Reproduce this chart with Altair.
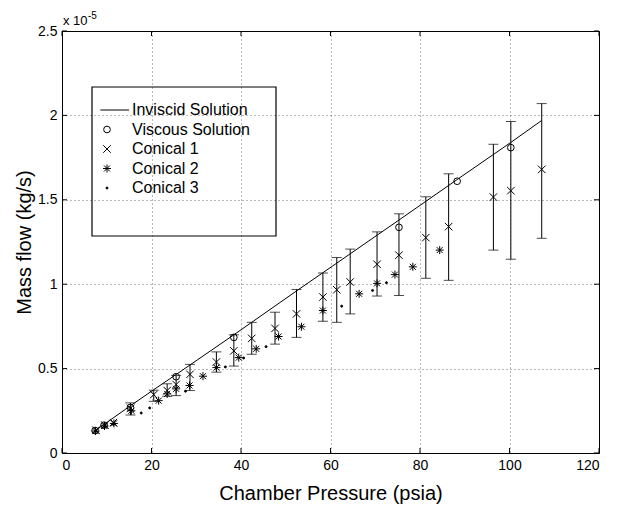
import altair as alt
import pandas as pd

FONT = "Liberation Sans"
W, H = 537, 422

series_names = ["Inviscid Solution", "Viscous Solution", "Conical 1", "Conical 2", "Conical 3"]

inviscid_x = [7.3, 15.3, 20.5, 25.5, 38.4, 52.4, 64.4, 75.3, 88.3, 100.3, 107.2]
inviscid_y = [0.13, 0.28, 0.375, 0.465, 0.70, 0.96, 1.18, 1.38, 1.62, 1.84, 1.97]

viscous_x = [7.4, 9.4, 15.3, 25.5, 38.4, 75.3, 88.3, 100.3]
viscous_y = [0.133, 0.165, 0.27, 0.452, 0.685, 1.337, 1.61, 1.809]

con1_x = [7.6, 9.6, 11.5, 15.3, 20.5, 23.5, 25.5, 28.6, 34.5, 38.4, 42.4, 47.6,
          52.4, 58.3, 61.4, 64.4, 70.4, 75.3, 81.3, 86.4, 96.4, 100.3, 107.2]
con1_y = [0.135, 0.165, 0.18, 0.265, 0.346, 0.37, 0.406, 0.466, 0.539, 0.605, 0.679, 0.738,
          0.824, 0.924, 0.967, 1.013, 1.118, 1.172, 1.276, 1.341, 1.516, 1.554, 1.68]

err_x = [15.3, 20.5, 23.5, 25.5, 28.6, 34.5, 38.4, 42.4, 47.6, 52.4, 58.3, 61.4,
         64.4, 70.4, 75.3, 81.3, 86.4, 96.4, 100.3, 107.2]
err_lo = [0.225, 0.306, 0.336, 0.34, 0.37, 0.479, 0.515, 0.585, 0.645, 0.685, 0.78, 0.774,
          0.824, 0.93, 0.933, 1.035, 1.023, 1.202, 1.148, 1.272]
err_hi = [0.297, 0.372, 0.41, 0.46, 0.525, 0.599, 0.70, 0.774, 0.834, 0.969, 1.066, 1.158,
          1.208, 1.31, 1.417, 1.518, 1.654, 1.829, 1.964, 2.07]

con2_x = [7.5, 9.5, 11.6, 15.5, 21.6, 23.5, 25.5, 28.5, 31.5, 34.5, 39.5, 43.4, 48.4,
          53.5, 58.3, 66.4, 70.4, 74.4, 78.4, 84.4]
con2_y = [0.13, 0.16, 0.175, 0.25, 0.31, 0.35, 0.38, 0.40, 0.455, 0.506, 0.565, 0.617, 0.69,
          0.748, 0.844, 0.943, 1.005, 1.057, 1.103, 1.202]

con3_x = [7.5, 9.5, 11.5, 17.7, 19.6, 27.6, 36.5, 40.6, 45.6, 62.5, 69.4, 72.5]
con3_y = [0.13, 0.155, 0.17, 0.237, 0.267, 0.366, 0.51, 0.563, 0.63, 0.87, 0.963, 1.009]

x_ticks = [0, 20, 40, 60, 80, 100, 120]
y_ticks = [0, 0.5, 1, 1.5, 2, 2.5]

LINE_PATH = "M-3.3,0L11,0"
X_PATH = "M-1,-1L1,1M-1,1L1,-1"
AST_PATH = "M-1,0L1,0M0,-1L0,1M-0.75,-0.75L0.75,0.75M-0.75,0.75L0.75,-0.75"
shape_range = [LINE_PATH, "circle", X_PATH, AST_PATH, "circle"]
size_range = [16, 45, 56, 64, 4]
fill_range = ["transparent", "transparent", "transparent", "transparent", "black"]
stroke_range = ["black", "black", "black", "black", "black"]

pts = pd.concat([
    pd.DataFrame({"p": viscous_x, "m": viscous_y, "series": "Viscous Solution"}),
    pd.DataFrame({"p": con1_x, "m": con1_y, "series": "Conical 1"}),
    pd.DataFrame({"p": con2_x, "m": con2_y, "series": "Conical 2"}),
    pd.DataFrame({"p": con3_x, "m": con3_y, "series": "Conical 3"}),
], ignore_index=True)
line_df = pd.DataFrame({"p": inviscid_x, "m": inviscid_y})
err_df = pd.DataFrame({"p": err_x, "lo": err_lo, "hi": err_hi})

xs = alt.Scale(domain=[0, 120], nice=False, zero=False)
ys = alt.Scale(domain=[0, 2.5], nice=False, zero=False)
AX = alt.Axis(values=x_ticks, title="Chamber Pressure (psia)", grid=True, ticks=False,
              domain=False, labelPadding=5, titlePadding=11)
AY = alt.Axis(values=y_ticks, format="~g", title="Mass flow (kg/s)", grid=True, ticks=False,
              domain=False, labelPadding=5, titlePadding=3)


def X(f):
    return alt.X(f, type="quantitative", scale=xs, axis=AX)


def Y(f):
    return alt.Y(f, type="quantitative", scale=ys, axis=AY)


line = alt.Chart(line_df).mark_line(color="black", strokeWidth=1).encode(x=X("p"), y=Y("m"))

bars = alt.Chart(err_df).mark_rule(color="black", strokeWidth=1).encode(
    x=X("p"), y=Y("lo"), y2="hi")
cap_lo = alt.Chart(err_df).mark_tick(color="black", orient="horizontal", size=10, thickness=1).encode(
    x=X("p"), y=Y("lo"))
cap_hi = alt.Chart(err_df).mark_tick(color="black", orient="horizontal", size=10, thickness=1).encode(
    x=X("p"), y=Y("hi"))

leg = alt.Legend(title=None)
points = alt.Chart(pts).mark_point(filled=True, strokeWidth=1, opacity=1).encode(
    x=X("p"), y=Y("m"),
    shape=alt.Shape("series:N", scale=alt.Scale(domain=series_names, range=shape_range), legend=leg),
    size=alt.Size("series:N", scale=alt.Scale(type="ordinal", domain=series_names, range=size_range),
                  legend=leg),
    fill=alt.Fill("series:N", scale=alt.Scale(domain=series_names, range=fill_range), legend=leg),
    stroke=alt.Stroke("series:N", scale=alt.Scale(domain=series_names, range=stroke_range), legend=leg),
)

xt = pd.DataFrame({"v": x_ticks})
yt = pd.DataFrame({"v": y_ticks})
TL = 5
xtick_b = alt.Chart(xt).mark_rule(color="black").encode(x=X("v"), y=alt.value(H), y2=alt.value(H - TL))
xtick_t = alt.Chart(xt).mark_rule(color="black").encode(x=X("v"), y=alt.value(0), y2=alt.value(TL))
ytick_l = alt.Chart(yt).mark_rule(color="black").encode(y=Y("v"), x=alt.value(0), x2=alt.value(TL))
ytick_r = alt.Chart(yt).mark_rule(color="black").encode(y=Y("v"), x=alt.value(W), x2=alt.value(W - TL))

legend_box = alt.Chart(pd.DataFrame({"k": [0]})).mark_rect(
    fill=None, fillOpacity=0, stroke="black", strokeWidth=1.2).encode(
    x=alt.value(30), x2=alt.value(214), y=alt.value(56), y2=alt.value(205))

exp_base = alt.Chart(pd.DataFrame({"t": ["x 10"]})).mark_text(
    font=FONT, fontSize=13, align="left", baseline="alphabetic", color="black").encode(
    text="t:N", x=alt.value(1), y=alt.value(-6))
exp_sup = alt.Chart(pd.DataFrame({"t": ["-5"]})).mark_text(
    font=FONT, fontSize=10, align="left", baseline="alphabetic", color="black").encode(
    text="t:N", x=alt.value(26), y=alt.value(-12))

chart = alt.layer(
    line, bars, cap_lo, cap_hi, points, xtick_b, xtick_t, ytick_l, ytick_r,
    legend_box, exp_base, exp_sup
).properties(
    width=W, height=H,
    padding={"left": 54, "top": 23, "right": 8, "bottom": 57},
    autosize=alt.AutoSizeParams(type="none"),
).configure_view(
    stroke="black", strokeWidth=1
).configure_axis(
    labelFont=FONT, labelFontSize=14, labelColor="black",
    titleFont=FONT, titleFontSize=20, titleFontWeight="normal", titleColor="black",
    gridColor="#000000", gridOpacity=0.55, gridDash=[1, 3], gridWidth=1,
).configure_legend(
    orient="none", legendX=37, legendY=71, padding=0,
    labelFont=FONT, labelFontSize=16, labelColor="black", labelOffset=17,
    rowPadding=3.5, symbolStrokeWidth=1,
)

chart.save("out.html", embed_options={"renderer": "svg", "actions": False})
